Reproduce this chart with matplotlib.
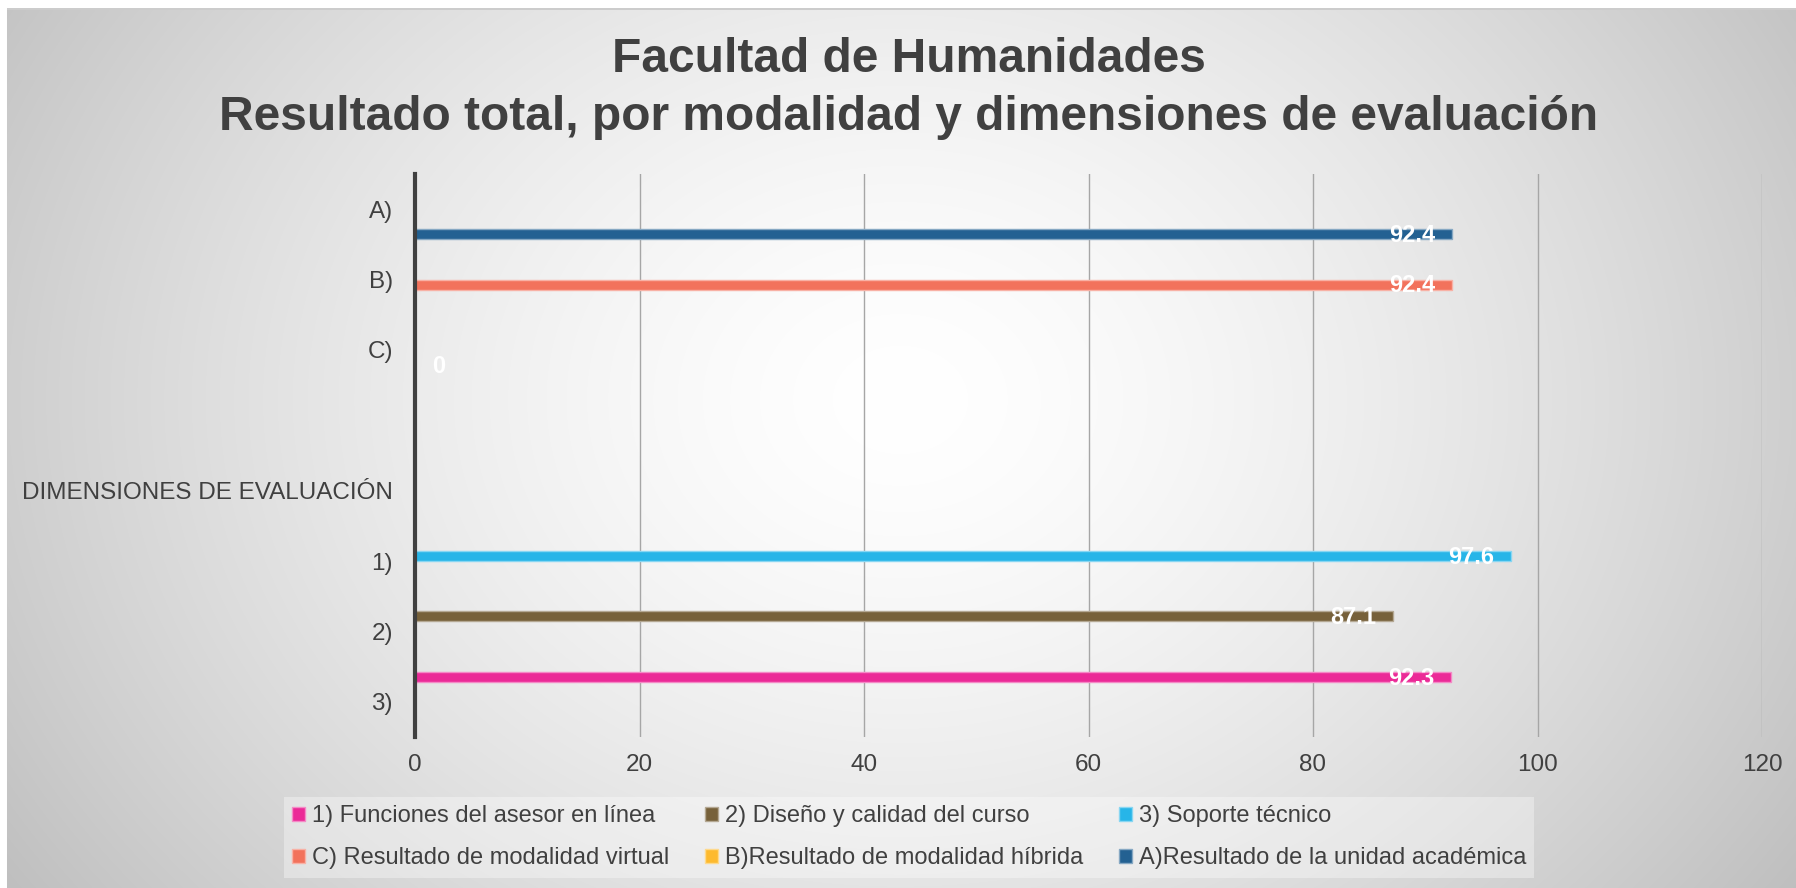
import numpy as np
import matplotlib
matplotlib.use("Agg")
import matplotlib.pyplot as plt
from matplotlib.patches import Patch
from matplotlib.colors import to_rgb

plt.rcParams['font.family'] = ['Liberation Sans', 'DejaVu Sans']

# categories on the vertical axis, bottom to top
categories = ['3)', '2)', '1)', 'DIMENSIONES DE EVALUACIÓN', '', 'C)', 'B)', 'A)']

# one series per legend entry, each with a single value in one category
series_names = ['1) Funciones del asesor en línea',
                '2) Diseño y calidad del curso',
                '3) Soporte técnico',
                'C) Resultado de modalidad virtual',
                'B)Resultado de modalidad híbrida',
                'A)Resultado de la unidad académica']
series_cats = ['3)', '2)', '1)', 'B)', 'C)', 'A)']
series_vals = [92.3, 87.1, 97.6, 92.4, 0, 92.4]
series_colors = ['#EB2A97', '#77613A', '#27B5E8', '#F2725C', '#FDBA2E', '#236192']

text_col = '#404040'

W, H = 1796, 888
fig = plt.figure(figsize=(W / 100, H / 100), dpi=100)

# radial grey gradient behind everything
yy, xx = np.mgrid[0:H, 0:W]
d = np.sqrt(((xx - 900) / 1000.0) ** 2 + ((yy - 400) / 800.0) ** 2)
g = 255 - 57 * d ** 1.5
g[9:11, :] = 204
g[:9, :] = 255
g[:, :7] = 255
g = np.clip(g, 0, 255) / 255.0
bg = fig.add_axes([0, 0, 1, 1])
bg.imshow(np.dstack([g, g, g]), aspect='auto', extent=(0, 1, 0, 1), interpolation='bilinear')
bg.set_xlim(0, 1)
bg.set_ylim(0, 1)
bg.axis('off')

ax = fig.add_axes([415 / W, 1 - 737 / H, (1762 - 415) / W, (737 - 174) / H])
ax.set_facecolor('none')

bar_h = 0.142
handles = []
for i, (name, cat, val, col) in enumerate(zip(series_names, series_cats, series_vals, series_colors)):
    y = categories.index(cat) + (2.5 - i) * bar_h
    light = tuple(0.55 * np.array(to_rgb(col)) + 0.45)
    ax.barh(y, val, height=bar_h, color=col, edgecolor=light, linewidth=1, zorder=3)
    if val > 0:
        ax.annotate(f'{val:g}', (val, y), xytext=(-12, -1), textcoords='offset points',
                    ha='right', va='center', color='white', fontsize=17, fontweight='bold', zorder=4)
    else:
        ax.annotate(f'{val:g}', (val, y), xytext=(12, -1), textcoords='offset points',
                    ha='left', va='center', color='white', fontsize=17, fontweight='bold', zorder=4)
    handles.append(Patch(facecolor=col, edgecolor=light, linewidth=1))

ax.set_xlim(0, 120)
ax.set_ylim(-0.5, len(categories) - 0.5)
ax.set_xticks(range(0, 121, 20))
ax.set_yticks(range(len(categories)), categories)
ax.tick_params(axis='both', length=0, labelsize=17.5, labelcolor=text_col)
ax.tick_params(axis='y', pad=16)
ax.tick_params(axis='x', pad=12)
ax.xaxis.grid(True, color='#a6a6a6', linewidth=1)
ax.set_axisbelow(True)
for s in ['top', 'right', 'bottom']:
    ax.spines[s].set_visible(False)
ax.spines['left'].set_linewidth(3)
ax.spines['left'].set_color(text_col)
ax.spines['left'].set_zorder(5)

fig.text(909 / W, 1 - 60 / H, 'Facultad de Humanidades', ha='center', va='center',
         fontsize=34.5, fontweight='bold', color=text_col)
fig.text(909 / W, 1 - 117 / H, 'Resultado total, por modalidad y dimensiones de evaluación',
         ha='center', va='center', fontsize=34.5, fontweight='bold', color=text_col)

order = [0, 3, 1, 4, 2, 5]
leg = fig.legend([handles[k] for k in order], [series_names[k] for k in order],
                 loc='upper left', bbox_to_anchor=(284 / W, 1 - 797 / H), ncol=3,
                 fontsize=17, labelcolor=text_col, handlelength=0.55, handleheight=0.55,
                 handletextpad=0.3, columnspacing=1.5, labelspacing=0.85, borderpad=0.35,
                 borderaxespad=0, fancybox=False, framealpha=0.35, edgecolor='none',
                 facecolor='white')

fig.savefig('out.png', dpi=100)
